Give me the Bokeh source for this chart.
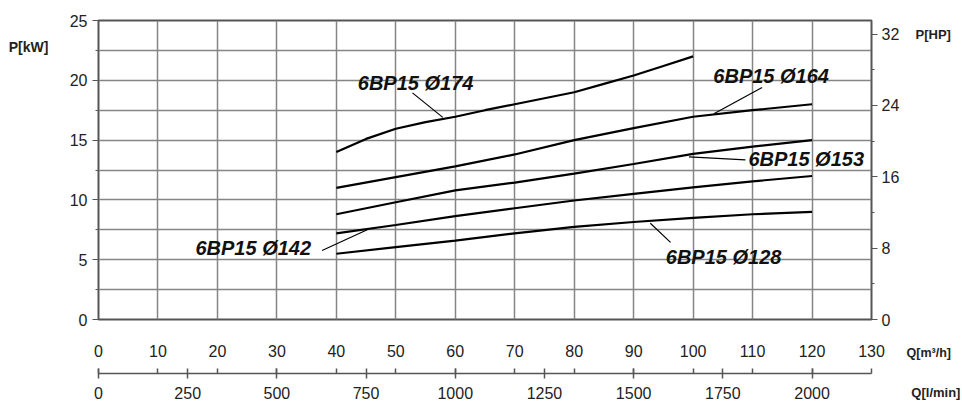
from bokeh.plotting import figure
from bokeh.models import LinearAxis, Range1d, FixedTicker, Label
from bokeh.embed import file_html
from bokeh.resources import INLINE

# ---------------- data ----------------
flow_m3h_ticks = [0, 10, 20, 30, 40, 50, 60, 70, 80, 90, 100, 110, 120, 130]
flow_lmin_ticks = [0, 250, 500, 750, 1000, 1250, 1500, 1750, 2000]
power_kw_ticks = [0, 5, 10, 15, 20, 25]
power_kw_minor = [2.5, 7.5, 12.5, 17.5, 22.5]
power_hp_ticks = [0, 8, 16, 24, 32]
power_hp_minor = [4, 12, 20, 28]

q_174 = [40, 45, 50, 55, 60, 65, 70, 75, 80, 85, 90, 95, 100]
p_174 = [14.0, 15.1, 15.95, 16.5, 16.95, 17.5, 18.0, 18.5, 19.0, 19.7, 20.4, 21.2, 22.0]

q_main = [40, 50, 60, 70, 80, 90, 100, 110, 120]
p_164 = [11.0, 11.9, 12.8, 13.8, 15.0, 16.0, 16.95, 17.5, 18.0]
p_153 = [8.8, 9.8, 10.8, 11.45, 12.2, 13.0, 13.85, 14.45, 15.0]
p_142 = [7.2, 7.9, 8.65, 9.3, 9.95, 10.5, 11.05, 11.55, 12.0]
p_128 = [5.5, 6.05, 6.6, 7.2, 7.75, 8.15, 8.5, 8.8, 9.0]

curve_names = ["6BP15 Ø174", "6BP15 Ø164", "6BP15 Ø153", "6BP15 Ø142", "6BP15 Ø128"]

KW_PER_HP = 0.7457
LMIN_PER_M3H = 1000 / 60

# ---------------- figure ----------------
GRID = "#858585"
FRAME = "#555555"
TXT = "#222222"
FONT = "Liberation Sans"

p = figure(width=962, height=403, x_range=Range1d(0, 130), y_range=Range1d(0, 25),
           output_backend="svg", toolbar_location=None, title_location=None,
           min_border_left=98, min_border_right=91, min_border_top=20, min_border_bottom=84)
p.background_fill_color = "white"
p.border_fill_color = "white"
p.outline_line_color = FRAME
p.outline_line_width = 2

# grids
p.xgrid.ticker = FixedTicker(ticks=flow_m3h_ticks)
p.xgrid.grid_line_color = GRID
p.xgrid.grid_line_width = 1.5
p.ygrid.ticker = FixedTicker(ticks=power_kw_ticks, minor_ticks=power_kw_minor)
p.ygrid.grid_line_color = GRID
p.ygrid.grid_line_width = 1.5
p.ygrid.minor_grid_line_color = GRID
p.ygrid.minor_grid_line_width = 1.5

# left axis (kW)
ya = p.yaxis[0]
ya.ticker = FixedTicker(ticks=power_kw_ticks, minor_ticks=power_kw_minor)
ya.axis_line_color = FRAME
ya.major_tick_line_color = FRAME
ya.minor_tick_line_color = FRAME
ya.major_tick_out = 6
ya.major_tick_in = 0
ya.minor_tick_out = 3
ya.minor_tick_in = 0
ya.major_label_standoff = 5
ya.major_label_text_font = FONT
ya.major_label_text_font_size = "16px"
ya.major_label_text_color = TXT

# right axis (HP)
p.extra_y_ranges = {"hp": Range1d(0, 25 / KW_PER_HP)}
ra = LinearAxis(y_range_name="hp",
                ticker=FixedTicker(ticks=power_hp_ticks, minor_ticks=power_hp_minor))
ra.axis_line_color = FRAME
ra.major_tick_line_color = FRAME
ra.minor_tick_line_color = FRAME
ra.major_tick_out = 6
ra.major_tick_in = 0
ra.minor_tick_out = 3
ra.minor_tick_in = 0
ra.major_label_standoff = 4
ra.major_label_text_font = FONT
ra.major_label_text_font_size = "16px"
ra.major_label_text_color = TXT
p.add_layout(ra, "right")

# bottom axis 1 (m3/h labels only)
xa = p.xaxis[0]
xa.ticker = FixedTicker(ticks=flow_m3h_ticks)
xa.axis_line_color = None
xa.major_tick_line_color = None
xa.minor_tick_line_color = None
xa.major_tick_out = 0
xa.major_tick_in = 0
xa.minor_tick_out = 0
xa.minor_tick_in = 0
xa.major_label_standoff = 25
xa.major_label_text_font = FONT
xa.major_label_text_font_size = "16px"
xa.major_label_text_color = TXT

# axis titles placed in side panels (so they are not clipped to the frame)
lab_style = dict(text_font=FONT, text_font_style="bold", text_color=TXT, text_baseline="middle")
p.add_layout(Label(x=135.9, y=-2.84, text="Q[m³/h]", text_font_size="12.5px", **lab_style), "below")
p.add_layout(Label(x=-15.1, y=22.78, text="P[kW]", text_font_size="14px", **lab_style), "left")
p.add_layout(Label(x=137.4, y=23.8, text="P[HP]", text_font_size="13px", **lab_style), "above")
p.add_layout(Label(x=136.7, y=-6.1, text="Q[l/min]", text_font_size="13px", **lab_style), "right")

# bottom axis 2 (l/min scale with line and ticks)
p.extra_x_ranges = {"lmin": Range1d(0, 130 * LMIN_PER_M3H)}
la = LinearAxis(x_range_name="lmin",
                ticker=FixedTicker(ticks=flow_lmin_ticks,
                                   minor_ticks=[q * LMIN_PER_M3H for q in flow_m3h_ticks]))
la.axis_line_color = FRAME
la.axis_line_width = 1.5
la.major_tick_line_color = FRAME
la.minor_tick_line_color = FRAME
la.major_tick_line_width = 1.5
la.minor_tick_line_width = 1.5
la.major_tick_in = 5
la.major_tick_out = 5
la.minor_tick_in = 5
la.minor_tick_out = 0
la.major_label_standoff = 8
la.major_label_text_font = FONT
la.major_label_text_font_size = "16px"
la.major_label_text_color = TXT
p.add_layout(la, "below")

# curves
for xs, ys in [(q_174, p_174), (q_main, p_164), (q_main, p_153), (q_main, p_142), (q_main, p_128)]:
    p.line(xs, ys, line_color="black", line_width=2.2)

# curve labels with leader lines (annotation placement)
label_layout = [
    # text x, text y, leader x0, y0, x1, y1
    (43.6, 19.8, 52.8, 18.95, 57.9, 16.9),
    (103.4, 20.4, 111.6, 19.4, 103.5, 17.2),
    (109.3, 13.45, 108.8, 13.35, 99.3, 13.6),
    (16.3, 6.0, 37.6, 5.77, 45.2, 7.5),
    (95.4, 5.2, 96.2, 6.45, 92.8, 8.05),
]
for name, (tx, ty, x0, y0, x1, y1) in zip(curve_names, label_layout):
    p.add_layout(Label(x=tx, y=ty, text=name, text_font=FONT, text_font_style="bold italic",
                       text_font_size="20px", text_color="#111111", text_baseline="middle",
                       text_align="left"))
    p.segment(x0=[x0], y0=[y0], x1=[x1], y1=[y1], line_color="black", line_width=1.2)

open("out.html", "w").write(file_html(p, INLINE))
